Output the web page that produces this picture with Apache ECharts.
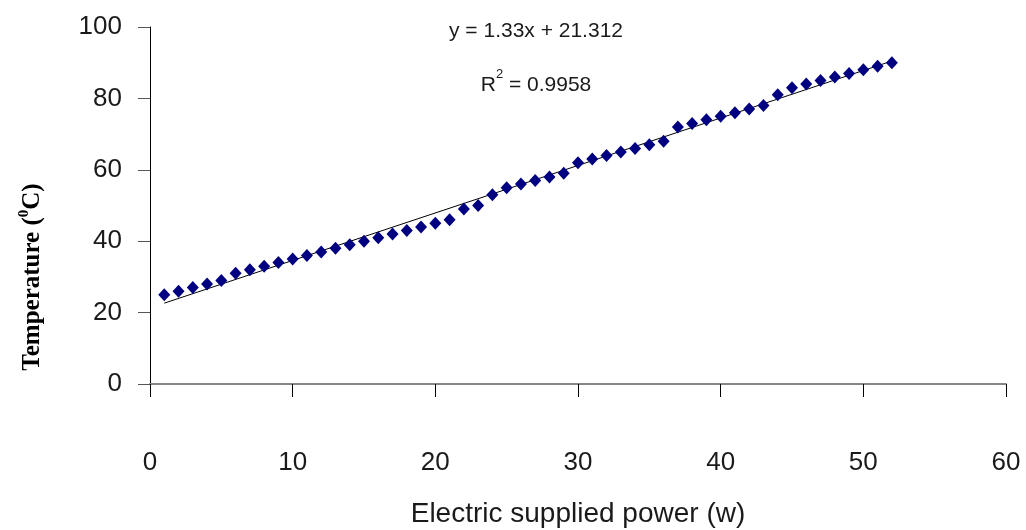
<!DOCTYPE html>
<html>
<head>
<meta charset="utf-8">
<script src="https://cdn.jsdelivr.net/npm/echarts@6/dist/echarts.min.js"></script>
<style>
  html, body { margin: 0; padding: 0; background: #fff; }
  #chart { width: 1026px; height: 530px; }
</style>
</head>
<body>
<div id="chart"></div>
<script>
// Measured heating temperature against electric supplied power
const powerW = [1, 2, 3, 4, 5, 6, 7, 8, 9, 10, 11, 12, 13, 14, 15, 16, 17, 18, 19, 20,
  21, 22, 23, 24, 25, 26, 27, 28, 29, 30, 31, 32, 33, 34, 35, 36, 37, 38, 39, 40,
  41, 42, 43, 44, 45, 46, 47, 48, 49, 50, 51, 52];
const temperatureC = [25, 26, 27, 28, 29, 31, 32, 33, 34, 35, 36, 37, 38, 39, 40, 41, 42, 43, 44, 45,
  46, 49, 50, 53, 55, 56, 57, 58, 59, 62, 63, 64, 65, 66, 67, 68, 72, 73, 74, 75,
  76, 77, 78, 81, 83, 84, 85, 86, 87, 88, 89, 90];

// Linear fit as stated in the annotation
const fitSlope = 1.33;
const fitIntercept = 21.312;
const fitR2 = 0.9958;

const xTicks = [0, 10, 20, 30, 40, 50, 60];
const yTicks = [0, 20, 40, 60, 80, 100];

const points = powerW.map((x, i) => [x, temperatureC[i]]);
const xFirst = powerW[0];
const xLast = powerW[powerW.length - 1];
const trend = [
  [xFirst, fitSlope * xFirst + fitIntercept],
  [xLast, fitSlope * xLast + fitIntercept]
];

const chart = echarts.init(document.getElementById('chart'), null, { renderer: 'canvas' });

const labelFont = 'Liberation Sans, Arial, sans-serif';
const serifFont = 'Liberation Serif, Times New Roman, serif';

chart.setOption({
  animation: false,
  backgroundColor: '#ffffff',
  grid: { left: 150, right: 20, top: 27, bottom: 146, containLabel: false, outerBoundsMode: 'none' },
  xAxis: {
    type: 'value',
    min: xTicks[0],
    max: xTicks[xTicks.length - 1],
    interval: 10,
    splitLine: { show: false },
    axisLine: { show: true, onZero: false, lineStyle: { color: '#868686', width: 2 } },
    axisTick: { show: true, inside: false, length: 13, lineStyle: { color: '#000', width: 1 } },
    axisLabel: {
      margin: 66,
      color: '#1a1a1a',
      fontSize: 26,
      fontFamily: labelFont
    },
    name: 'Electric supplied power (w)',
    nameLocation: 'middle',
    nameGap: 116,
    nameTextStyle: { color: '#1a1a1a', fontSize: 28, fontFamily: labelFont }
  },
  yAxis: {
    type: 'value',
    min: yTicks[0],
    max: yTicks[yTicks.length - 1],
    interval: 20,
    splitLine: { show: false },
    axisLine: { show: true, onZero: false, lineStyle: { color: '#000', width: 1 } },
    axisTick: { show: true, inside: false, length: 12, lineStyle: { color: '#555', width: 1 } },
    axisLabel: {
      margin: 28,
      color: '#1a1a1a',
      fontSize: 26,
      fontFamily: labelFont
    }
  },
  graphic: [
    {
      type: 'text',
      x: 31,
      y: 277,
      rotation: Math.PI / 2,
      style: {
        text: '{b|Temperature (}{s|0}{b|C)}',
        align: 'center',
        verticalAlign: 'middle',
        rich: {
          b: { fontFamily: serifFont, fontWeight: 'bold', fontSize: 25, fill: '#000', verticalAlign: 'bottom', lineHeight: 28 },
          s: { fontFamily: serifFont, fontWeight: 'bold', fontSize: 15, fill: '#000', verticalAlign: 'top', lineHeight: 28 }
        }
      }
    },
    {
      type: 'text',
      x: 536,
      y: 31,
      style: {
        text: 'y = ' + fitSlope.toFixed(2) + 'x + ' + fitIntercept.toFixed(3),
        font: '21px ' + labelFont,
        fill: '#1a1a1a',
        align: 'center',
        verticalAlign: 'middle'
      }
    },
    {
      type: 'text',
      x: 536,
      y: 82,
      style: {
        text: '{r|R}{s|2}{r| = ' + fitR2.toFixed(4) + '}',
        align: 'center',
        verticalAlign: 'middle',
        rich: {
          r: { font: '21px ' + labelFont, fill: '#1a1a1a', verticalAlign: 'bottom', lineHeight: 28 },
          s: { font: '13px ' + labelFont, fill: '#1a1a1a', verticalAlign: 'top', lineHeight: 28 }
        }
      }
    }
  ],
  series: [
    {
      name: 'Temperature',
      type: 'scatter',
      data: points,
      symbol: 'diamond',
      symbolSize: [12, 13],
      itemStyle: { color: '#000080', opacity: 1 },
      z: 3
    },
    {
      name: 'Linear fit',
      type: 'line',
      data: trend,
      symbol: 'none',
      lineStyle: { color: '#000', width: 1 },
      z: 2
    }
  ]
});
</script>
</body>
</html>
